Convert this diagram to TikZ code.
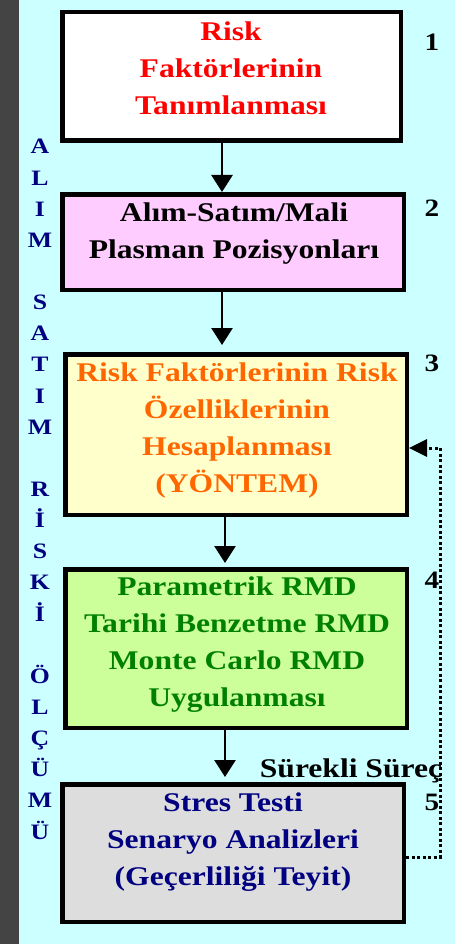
\documentclass[tikz,border=0pt]{standalone}
\usepackage{fontspec}
\setmainfont{Liberation Serif}[FakeStretch=1.17]
\usetikzlibrary{arrows.meta,calc}
\definecolor{bgcyan}{HTML}{CCFFFF}
\definecolor{stripgrey}{HTML}{444444}
\definecolor{pinkfill}{HTML}{FFCCFF}
\definecolor{yellowfill}{HTML}{FFFFCC}
\definecolor{greenfill}{HTML}{CCFF99}
\definecolor{greyfill}{HTML}{DDDDDD}
\definecolor{redtext}{HTML}{FF0000}
\definecolor{orangetext}{HTML}{FF6600}
\definecolor{greentext}{HTML}{008000}
\definecolor{navytext}{HTML}{000080}
\begin{document}
\begin{tikzpicture}[x=1pt,y=-1pt,
  boxst/.style={draw=black, line width=4.5pt, minimum width=341.5pt, inner sep=0pt},
  txt/.style={align=center, inner sep=0pt, font=\fontsize{27}{37}\selectfont\bfseries,
    execute at begin node=\strut, execute at end node=\strut},
  vlet/.style={anchor=base, inner sep=0pt, text=navytext, font=\fontsize{22}{25}\selectfont\bfseries},
  numst/.style={inner sep=0pt, font=\fontsize{25}{30}\selectfont\bfseries},
  arr/.style={draw=black, line width=2.7pt, -{Triangle[width=21pt,length=17pt]}},
  dotarr/.style={draw=black, line width=3pt, dash pattern=on 3pt off 2.5pt,
    -{Triangle[width=17pt,length=18pt]}}]
\fill[bgcyan] (0,0) rectangle (455,944);
\fill[stripgrey] (0,0) rectangle (19,944);
\useasboundingbox (0,0) rectangle (455,944);

% boxes
\node[boxst, fill=white, minimum width=338.5pt, minimum height=128.5pt] (b1) at (231.5,76.5) {};
\node[boxst, fill=pinkfill, minimum height=95.5pt] (b2) at (233,242) {};
\node[boxst, fill=yellowfill, minimum height=160.5pt] (b3) at (236,434.5) {};
\node[boxst, fill=greenfill, minimum height=158.5pt] (b4) at (236,648.5) {};
\node[boxst, fill=greyfill, minimum height=137.5pt] (b5) at (233,853) {};

% box texts
\node[txt, text=redtext] (t1) at (231,73.3) {Risk\\Faktörlerinin\\Tanımlanması};
\node[txt, text=black] (t2) at (234,236.6) {Alım-Satım/Mali\\Plasman Pozisyonları};
\node[txt, text=orangetext] (t3) at (237,432.8) {Risk Faktörlerinin Risk\\Özelliklerinin\\Hesaplanması\\(YÖNTEM)};
\node[txt, text=greentext] (t4) at (237,647.4) {Parametrik RMD\\Tarihi Benzetme RMD\\Monte Carlo RMD\\Uygulanması};
\node[txt, text=navytext] (t5) at (233,844.9) {Stres Testi\\Senaryo Analizleri\\(Geçerliliği Teyit)};

% arrows
\draw[arr] ([xshift=-9.5pt]b1.south) -- ([xshift=-9.5pt]b1.south |- b2.north);
\draw[arr, shorten >=7pt] ([xshift=-11pt]b2.south) -- ([xshift=-11pt]b2.south |- b3.north);
\draw[arr, shorten >=4pt] ([xshift=-11pt]b3.south) -- ([xshift=-11pt]b3.south |- b4.north);
\draw[arr, shorten >=5pt] ([xshift=-11pt]b4.south) -- ([xshift=-11pt]b4.south |- b5.north);

% feedback loop
\coordinate (loop) at (440,448);
\draw[dotarr] ([yshift=-4pt]b5.east) -| (loop) -- ([yshift=-13.5pt]b3.east);

% labels
\node[anchor=base, inner sep=0pt, font=\fontsize{27}{30}\selectfont\bfseries] (sur) at (351,777) {Sürekli Süreç};
\node[numst] (n1) at (432,42) {1};
\node[numst] (n2) at (432,208) {2};
\node[numst] (n3) at (432,363) {3};
\node[numst] (n4) at (432,580) {4};
\node[numst] (n5) at (432,802) {5};

% vertical letters
\foreach \ch/\i in {A/0,L/1,I/2,M/3,S/5,A/6,T/7,I/8,M/9,R/11,İ/12,S/13,K/14,İ/15,Ö/17,L/18,Ç/19,Ü/20,M/21,Ü/22}
  \node[vlet] (v\i) at (40,154+31.14*\i) {\ch};
\end{tikzpicture}
\end{document}
